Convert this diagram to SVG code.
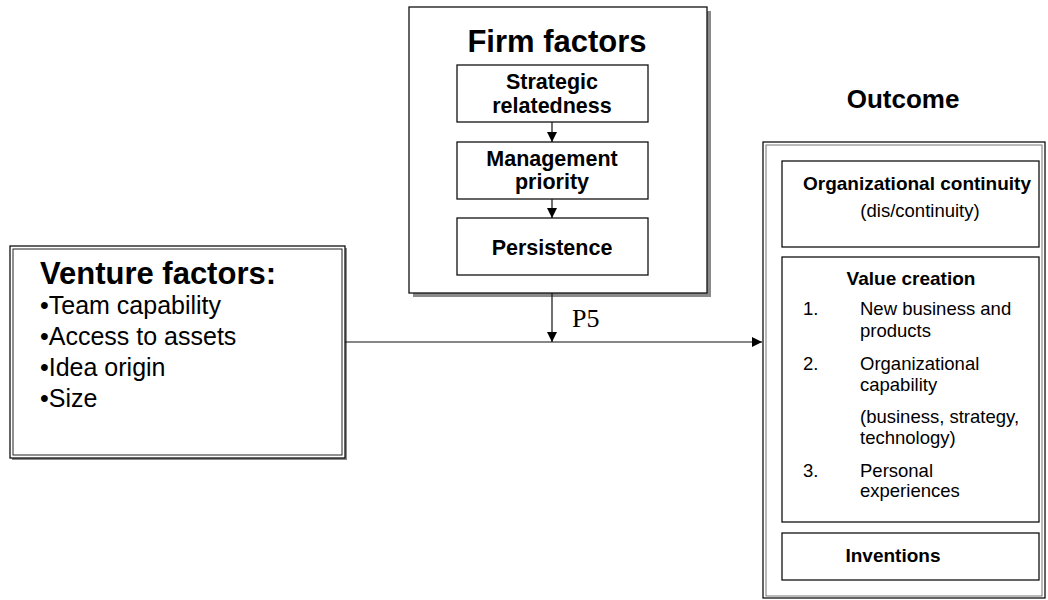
<svg xmlns="http://www.w3.org/2000/svg" width="1048" height="600" viewBox="0 0 1048 600">
<defs>
<style>
.t{font-family:"Liberation Sans",Arial,sans-serif;fill:#000}
.b{font-weight:bold}
.box{fill:#fff;stroke:#111;stroke-width:1.3}
.thin{fill:none;stroke:#222;stroke-width:1}
.sh{fill:#8a8a8a}
.ln{stroke:#111;stroke-width:1.2;fill:none}
</style>
<marker id="ah" viewBox="0 0 10 10" refX="10" refY="5" markerWidth="10" markerHeight="10" markerUnits="userSpaceOnUse" orient="auto">
<path d="M0,0 L10,5 L0,10 Z" fill="#000"/>
</marker>
</defs>
<rect width="1048" height="600" fill="#fff"/>

<g id="firm-factors">
<rect class="sh" x="413" y="11" width="298" height="286"/>
<rect class="box" x="409" y="7" width="298" height="286"/>
<text class="t b" x="557" y="52" font-size="31" text-anchor="middle">Firm factors</text>
</g>
<g id="strategic-relatedness">
<rect class="box" x="457" y="65" width="191" height="57"/>
<text class="t b" x="552" y="89" font-size="21.5" text-anchor="middle">Strategic</text>
<text class="t b" x="552" y="113" font-size="21.5" text-anchor="middle">relatedness</text>
</g>
<g id="management-priority">
<rect class="box" x="457" y="142" width="191" height="57"/>
<text class="t b" x="552" y="166" font-size="21.5" text-anchor="middle">Management</text>
<text class="t b" x="552" y="189" font-size="21.5" text-anchor="middle">priority</text>
</g>
<g id="persistence">
<rect class="box" x="457" y="218" width="191" height="57"/>
<text class="t b" x="552" y="255" font-size="21.5" text-anchor="middle">Persistence</text>
</g>

<g id="venture-factors">
<rect class="sh" x="12" y="248" width="335" height="212"/>
<rect class="box" x="10" y="246" width="335" height="212"/>
<rect class="thin" x="13" y="249" width="329" height="206"/>
<text class="t b" x="40" y="284" font-size="31">Venture factors:</text>
<text class="t" x="40" y="314" font-size="25">•Team capability</text>
<text class="t" x="40" y="345" font-size="25">•Access to assets</text>
<text class="t" x="40" y="376" font-size="25">•Idea origin</text>
<text class="t" x="40" y="407" font-size="25">•Size</text>
</g>

<g id="outcome">
<text class="t b" x="903" y="108" font-size="26" text-anchor="middle">Outcome</text>
<rect class="box" x="763" y="142" width="282" height="456"/>
<rect class="thin" x="766" y="145" width="276" height="451" style="stroke:#777"/>
</g>
<g id="organizational-continuity">
<rect class="box" x="782" y="161" width="257" height="86"/>
<text class="t b" x="917" y="190" font-size="19" text-anchor="middle">Organizational continuity</text>
<text class="t" x="920" y="217" font-size="18.5" text-anchor="middle">(dis/continuity)</text>
</g>
<g id="value-creation">
<rect class="box" x="782" y="257" width="257" height="265"/>
<text class="t b" x="911" y="285" font-size="19" text-anchor="middle">Value creation</text>
<g class="t" font-size="18.5">
<text x="803" y="315">1.</text>
<text x="860" y="315">New business and</text>
<text x="860" y="337">products</text>
<text x="803" y="370">2.</text>
<text x="860" y="370">Organizational</text>
<text x="860" y="391">capability</text>
<text x="860" y="423">(business, strategy,</text>
<text x="860" y="444">technology)</text>
<text x="803" y="477">3.</text>
<text x="860" y="477">Personal</text>
<text x="860" y="497">experiences</text>
</g>
</g>
<g id="inventions">
<rect class="box" x="782" y="533" width="257" height="47"/>
<text class="t b" x="893" y="562" font-size="19" text-anchor="middle">Inventions</text>
</g>

<g id="connectors">
<line class="ln" x1="552" y1="122" x2="552" y2="142" marker-end="url(#ah)"/>
<line class="ln" x1="552" y1="199" x2="552" y2="218" marker-end="url(#ah)"/>
<line class="ln" x1="552" y1="293" x2="552" y2="342" marker-end="url(#ah)"/>
<line class="ln" x1="345" y1="342" x2="762" y2="342" marker-end="url(#ah)"/>
<text x="572" y="327" font-family="'Liberation Serif','Times New Roman',serif" font-size="26" fill="#000">P5</text>
</g>
</svg>
